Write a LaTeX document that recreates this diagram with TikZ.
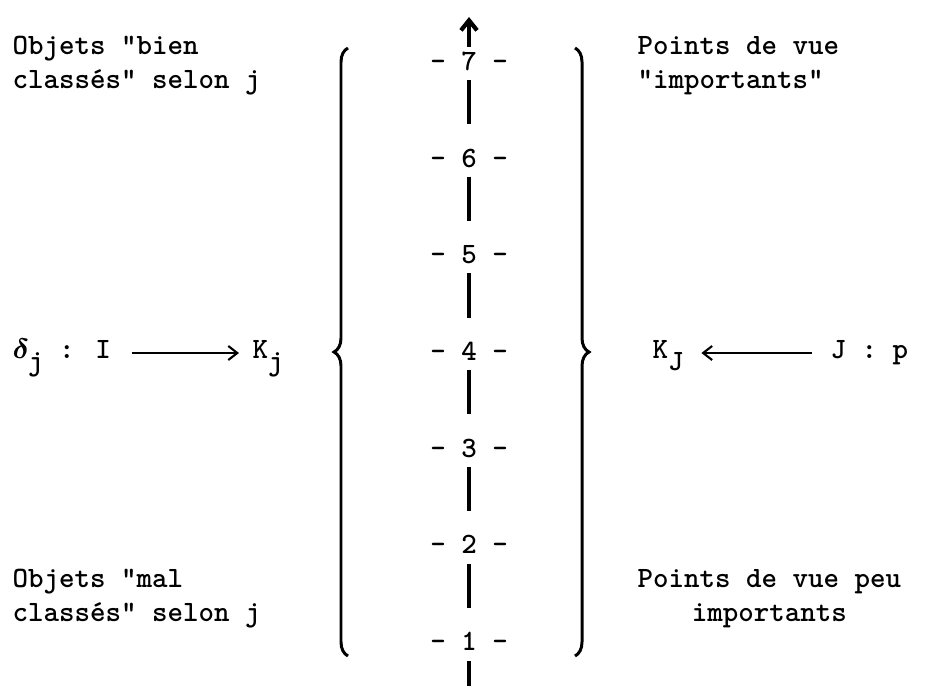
\documentclass[tikz,border=0pt]{standalone}
\usepackage{tikz}
\usepackage{amsmath}
\usetikzlibrary{arrows.meta,decorations.pathreplacing}
\tikzset{
  txt/.style={font=\ttfamily\bfseries\fontsize{8.4}{9.4}\selectfont, inner sep=0pt},
  numlbl/.style={txt, text height=0.17cm, text depth=0pt},
  axisline/.style={line width=1.2pt},
  mapline/.style={line width=0.6pt, -{Straight Barb[length=0.09cm,width=0.14cm]}},
  bracket/.style={line width=0.85pt, decorate, decoration={brace, amplitude=0.14cm}}
}
\newcommand{\subtyped}[1]{\raisebox{-0.12cm}{#1}}

\begin{document}
\begin{tikzpicture}
\useasboundingbox (0,0) rectangle (9.27,6.86);

\node[txt, anchor=base west, align=left] (goodobj) at (0.12,5.98) {Objets "bien\\classés" selon j};
\node[txt, anchor=base west, align=left] (majorpv) at (6.37,5.98) {Points de vue\\"importants"};
\node[txt, anchor=base west, align=left] (badobj) at (0.12,0.65) {Objets "mal\\classés" selon j};
\node[txt, anchor=base west, align=center] (minorpv) at (6.37,0.65) {Points de vue peu\\importants};

\node[txt, anchor=base west] (delta) at (0.12,3.28) {\makebox[0.155cm][l]{$\boldsymbol{\delta}$}\subtyped{j} : I};
\node[txt, anchor=base west] (kj) at (2.52,3.28) {K\subtyped{j}};
\node[txt, anchor=base west] (kJ) at (6.52,3.28) {K\subtyped{J}};
\node[txt, anchor=base west] (Jp) at (8.30,3.28) {J : p};

\draw[mapline, shorten <=0.2cm, shorten >=0.13cm] ([yshift=0.05cm]delta.base east) -- ([yshift=0.05cm]kj.base west);
\draw[mapline, shorten <=0.18cm, shorten >=0.17cm] ([yshift=0.05cm]Jp.base west) -- ([yshift=0.05cm]kJ.base east);

\foreach \k in {1,...,7}
  \node[numlbl] (n\k) at (4.69,{0.44+(\k-1)*0.967}) {-\ \k\ -};
\foreach \k [count=\j from 2] in {1,...,6}
  \draw[axisline, shorten <=0.09cm, shorten >=0.25cm] (n\j.south) -- (n\k.north);

\coordinate (axtop) at (4.69,6.69);
\coordinate (axbot) at (4.69,0);
\draw[axisline, -{Straight Barb[length=0.1cm,width=0.16cm]}, shorten <=0.06cm] (n7.north) -- (axtop);
\draw[axisline, shorten <=0.1cm] (n1.south) -- (axbot);

\draw[bracket] (3.48,0.30) -- (3.48,6.38);
\draw[bracket] (5.75,6.38) -- (5.75,0.30);
\end{tikzpicture}
\end{document}
